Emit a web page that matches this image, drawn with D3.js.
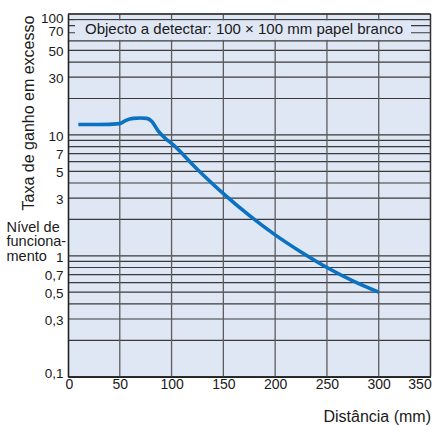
<!DOCTYPE html>
<html>
<head>
<meta charset="utf-8">
<script src="https://cdn.jsdelivr.net/npm/d3@7/dist/d3.min.js"></script>
<style>
  html, body { margin: 0; padding: 0; background: #ffffff; }
  svg { display: block; font-family: "Liberation Sans", Arial, Helvetica, sans-serif; }
</style>
</head>
<body>
<svg id="chart" width="435" height="425"></svg>
<script>
// Excess gain versus sensing distance (100 x 100 mm white paper target)
const distance = [10, 30, 50, 56, 63, 70, 76, 81, 87, 95, 100, 125, 150, 175, 200, 225, 250, 275, 300];
const excessGain = [12.2, 12.2, 12.4, 13.2, 13.7, 13.8, 13.7, 12.9, 10.8, 9.2, 8.5, 5.18, 3.27, 2.16, 1.49, 1.075, 0.80, 0.62, 0.5];

const xTickValues = [0, 50, 100, 150, 200, 250, 300, 350];
const yTickValues = [100, 70, 50, 30, 10, 7, 5, 3, 1, 0.7, 0.5, 0.3, 0.1];

const yTitle = "Taxa de ganho em excesso";
const xTitle = "Distância (mm)";
const targetNote = "Objecto a detectar: 100 \u00d7 100 mm papel branco";
const levelNote = ["Nível de", "funciona-", "mento"];

const svg = d3.select("#chart");

const plotLeft = 68, plotRight = 430.5, plotTop = 14, plotBottom = 376.7;
const x = d3.scaleLinear().domain([0, 350]).range([plotLeft, plotRight]);
const y = d3.scaleLog().domain([0.1, 100]).range([plotBottom, plotTop]);

const bg = "#dfe6f4";
const fmt = d3.formatLocale({ decimal: ",", thousands: ".", grouping: [3], currency: ["", " €"] }).format("~g");

// plot background
svg.append("rect")
  .attr("x", plotLeft).attr("y", plotTop)
  .attr("width", plotRight - plotLeft).attr("height", plotBottom - plotTop)
  .attr("fill", bg);

// horizontal grid: every 1-2-...-9 step of each decade
const grid = svg.append("g");
grid.selectAll("line.h")
  .data(y.ticks())
  .join("line")
  .attr("class", "h")
  .attr("x1", plotLeft).attr("x2", plotRight)
  .attr("y1", d => y(d)).attr("y2", d => y(d))
  .attr("stroke", "#3a3a3a")
  .attr("stroke-width", 1.2);

// vertical grid
grid.selectAll("line.v")
  .data(xTickValues.slice(1))
  .join("line")
  .attr("class", "v")
  .attr("x1", d => x(d)).attr("x2", d => x(d))
  .attr("y1", plotTop).attr("y2", plotBottom)
  .attr("stroke", "#5c5c5c")
  .attr("stroke-width", 1.3);

// top border
svg.append("line")
  .attr("x1", plotLeft).attr("x2", plotRight)
  .attr("y1", plotTop).attr("y2", plotTop)
  .attr("stroke", "#333").attr("stroke-width", 1.3);

// note panel over the 60-90 band
const noteTop = y(90) + 1, noteBottom = y(60) - 1;
svg.append("rect")
  .attr("x", plotLeft + 7).attr("y", noteTop)
  .attr("width", 336).attr("height", noteBottom - noteTop)
  .attr("fill", bg);
svg.append("text")
  .attr("x", 85).attr("y", 34.3)
  .attr("font-size", 15)
  .attr("fill", "#1a1a1a")
  .text(targetNote);

// excess gain curve
const line = d3.line()
  .x((d, i) => x(distance[i]))
  .y(d => y(d))
  .curve(d3.curveMonotoneX);

svg.append("path")
  .datum(excessGain)
  .attr("d", line)
  .attr("fill", "none")
  .attr("stroke", "#0a72c2")
  .attr("stroke-width", 3.6)
  .attr("stroke-linecap", "butt")
  .attr("stroke-linejoin", "round");

// left axis
const yLabelShift = { 100: 3, 70: -3, 0.1: -4.5 };
const yAxis = svg.append("g")
  .attr("transform", `translate(${plotLeft},0)`)
  .call(d3.axisLeft(y).tickValues(yTickValues).tickSize(0).tickPadding(4.5).tickFormat(fmt));
yAxis.select(".domain").attr("stroke", "#222").attr("stroke-width", 1.6);
yAxis.selectAll("text")
  .attr("font-size", 13.5)
  .attr("font-family", "Liberation Sans, Arial, Helvetica, sans-serif")
  .attr("fill", "#1a1a1a")
  .attr("dy", d => (0.32 * 13.5 + 1 + (yLabelShift[d] || 0)) + "px");

// bottom axis
const xLabelShift = { 0: 1, 350: -11 };
const xAxis = svg.append("g")
  .attr("transform", `translate(0,${plotBottom})`)
  .call(d3.axisBottom(x).tickValues(xTickValues).tickSize(0).tickPadding(2.5));
xAxis.select(".domain").attr("stroke", "#222").attr("stroke-width", 1.6);
xAxis.selectAll("text")
  .attr("font-size", 14)
  .attr("font-family", "Liberation Sans, Arial, Helvetica, sans-serif")
  .attr("fill", "#1a1a1a")
  .attr("dx", d => (xLabelShift[d] || 0) + "px");

// right border
svg.append("line")
  .attr("x1", plotRight).attr("x2", plotRight)
  .attr("y1", plotTop).attr("y2", plotBottom)
  .attr("stroke", "#333").attr("stroke-width", 1.3);

// axis titles
svg.append("text")
  .attr("transform", "translate(33.5,113) rotate(-90)")
  .attr("text-anchor", "middle")
  .attr("font-size", 16)
  .attr("fill", "#1a1a1a")
  .text(yTitle);

svg.append("text")
  .attr("x", 431).attr("y", 421.5)
  .attr("text-anchor", "end")
  .attr("font-size", 16)
  .attr("fill", "#1a1a1a")
  .text(xTitle);

// operating level caption next to the "1" tick
svg.append("text")
  .attr("font-size", 14.5)
  .attr("fill", "#1a1a1a")
  .selectAll("tspan")
  .data(levelNote)
  .join("tspan")
  .attr("x", 6.5)
  .attr("y", (d, i) => 231.5 + i * 14.6)
  .text(d => d);
</script>
</body>
</html>
